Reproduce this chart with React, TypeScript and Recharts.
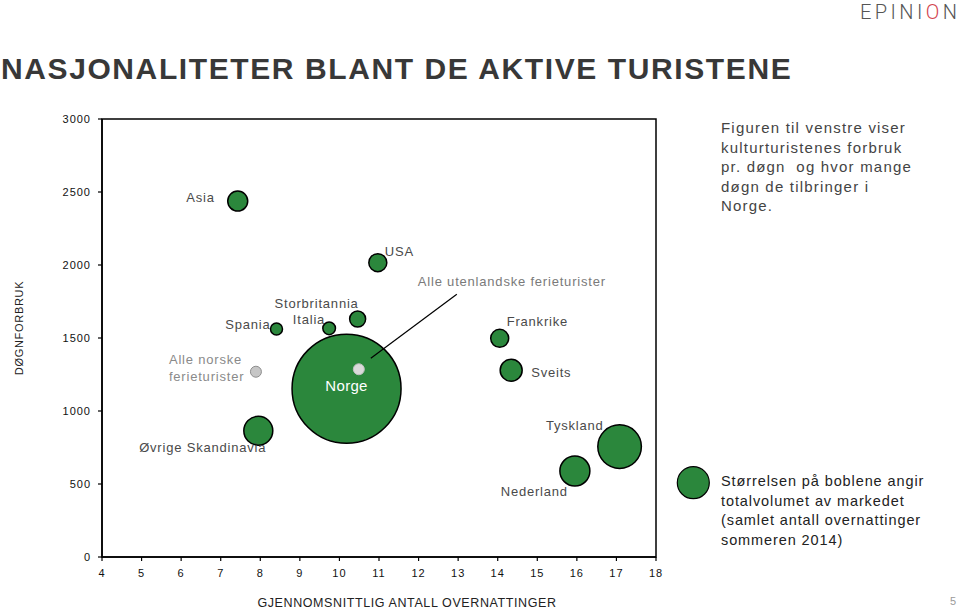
import React from 'react';
import { ScatterChart, Scatter, XAxis, YAxis, ZAxis, ReferenceArea } from 'recharts';

// Markets (bubbles)
const markets = ['Asia', 'USA', 'Storbritannia', 'Italia', 'Spania', 'Norge', 'Frankrike', 'Sveits', 'Øvrige Skandinavia', 'Tyskland', 'Nederland'];
const nights = [7.43, 10.97, 10.46, 9.74, 8.41, 10.18, 14.05, 14.34, 7.95, 17.08, 15.95];
const spend = [2438, 2016, 1630, 1566, 1562, 1153, 1498, 1279, 865, 756, 589];
const volume = [100, 81, 64, 40, 36, 2970, 81, 121, 210, 475, 225];

// Reference groups (grey markers)
const refGroups = ['Alle norske ferieturister', 'Alle utenlandske ferieturister'];
const refNights = [7.89, 10.49];
const refSpend = [1269, 1286];

const xTicks = [4, 5, 6, 7, 8, 9, 10, 11, 12, 13, 14, 15, 16, 17, 18];
const yTicks = [0, 500, 1000, 1500, 2000, 2500, 3000];

const marketData = markets.map((name, i) => ({ name, x: nights[i], y: spend[i], z: volume[i] }));
const refData = refGroups.map((name, i) => ({ name, x: refNights[i], y: refSpend[i] }));

const GREEN = '#2b873c';
const FONT = "'Liberation Sans', Arial, sans-serif";
const LABEL_COLOR = '#4a4a4a';

type Place = { dx: number; dy: number; anchor: 'start' | 'middle' | 'end'; color?: string; size?: number };
const labelPlace: Record<string, Place> = {
  Asia: { dx: -23, dy: 1, anchor: 'end' },
  USA: { dx: 7, dy: -7, anchor: 'start' },
  Storbritannia: { dx: 1, dy: -11, anchor: 'end' },
  Italia: { dx: -4, dy: -4, anchor: 'end' },
  Spania: { dx: -6, dy: 0, anchor: 'end' },
  Norge: { dx: 0, dy: 2, anchor: 'middle', color: '#ffffff', size: 15 },
  Frankrike: { dx: 7, dy: -12, anchor: 'start' },
  Sveits: { dx: 20, dy: 7, anchor: 'start' },
  'Øvrige Skandinavia': { dx: 8, dy: 21, anchor: 'end' },
  Tyskland: { dx: -16, dy: -17, anchor: 'end' },
  Nederland: { dx: -7, dy: 25, anchor: 'end' },
};

const MarketShape = (props: any) => {
  const { cx, cy, payload } = props;
  let r = 0;
  if (typeof props.size === 'number') r = Math.sqrt(Math.max(props.size, 0) / Math.PI);
  else if (typeof props.width === 'number') r = props.width / 2;
  const p = labelPlace[payload.name];
  return (
    <g>
      <circle cx={cx} cy={cy} r={r} fill={GREEN} stroke="#000" strokeWidth={1.5} />
      {p && (
        <text
          x={cx + p.dx}
          y={cy + p.dy}
          textAnchor={p.anchor}
          fontFamily={FONT}
          fontSize={p.size ?? 13}
          letterSpacing={p.size ? 0.3 : 0.8}
          fill={p.color ?? LABEL_COLOR}
        >
          {payload.name}
        </text>
      )}
    </g>
  );
};

const RefShape = (props: any) => {
  const { cx, cy, payload } = props;
  const isNorsk = payload.name === 'Alle norske ferieturister';
  return (
    <g>
      <circle cx={cx} cy={cy} r={5.5} fill={isNorsk ? '#c6c6c6' : '#dadada'} stroke={isNorsk ? '#8e8e8e' : '#c0c0c0'} strokeWidth={1} />
      {isNorsk ? (
        <text x={cx - 87} y={cy} fontFamily={FONT} fontSize={13} letterSpacing={0.8} fill="#8a8a8a">
          <tspan x={cx - 87} dy={-8}>Alle norske</tspan>
          <tspan x={cx - 87} dy={17.5}>ferieturister</tspan>
        </text>
      ) : (
        <g>
          <line x1={cx + 12} y1={cy - 11} x2={cx + 98} y2={cy - 75} stroke="#000" strokeWidth={1.2} />
          <text x={cx + 59} y={cy - 83} fontFamily={FONT} fontSize={13} letterSpacing={0.8} fill="#7a7a7a">
            {payload.name}
          </text>
        </g>
      )}
    </g>
  );
};

const tickStyle = { fontSize: 11, fill: '#111', fontFamily: FONT, letterSpacing: 1 };

export default function App() {
  return (
    <div style={{ position: 'absolute', left: 0, top: 0, width: 960, height: 609, background: '#fff', overflow: 'hidden' }}>
      <ScatterChart width={960} height={609} margin={{ top: 119, right: 304, bottom: 22, left: 42 }}>
        <XAxis
          type="number"
          dataKey="x"
          domain={[4, 18]}
          ticks={xTicks}
          interval={0}
          tickSize={4}
          tickMargin={8}
          height={30}
          stroke="#000"
          axisLine={{ stroke: '#000', strokeWidth: 1.5 }}
          tickLine={{ stroke: '#000', strokeWidth: 1.2 }}
          tick={tickStyle}
          allowDataOverflow
        />
        <YAxis
          type="number"
          dataKey="y"
          domain={[0, 3000]}
          ticks={yTicks}
          interval={0}
          tickSize={4}
          tickMargin={7}
          width={60}
          stroke="#000"
          axisLine={{ stroke: '#000', strokeWidth: 1.5 }}
          tickLine={{ stroke: '#000', strokeWidth: 1.2 }}
          tick={tickStyle}
          allowDataOverflow
        />
        <ZAxis zAxisId="vol" type="number" dataKey="z" domain={[0, 2970]} range={[0, Math.PI * 54.5 * 54.5]} />
        <ZAxis zAxisId="ref" type="number" range={[95, 95]} />
        <ReferenceArea x1={4} x2={18} y1={0} y2={3000} fill="none" fillOpacity={0} stroke="#000" strokeWidth={1.5} />
        <Scatter data={marketData} zAxisId="vol" shape={MarketShape} isAnimationActive={false} />
        <Scatter data={refData} zAxisId="ref" shape={RefShape} isAnimationActive={false} />
      </ScatterChart>

      <svg width={960} height={609} style={{ position: 'absolute', left: 0, top: 0, pointerEvents: 'none' }}>
        <text x={1} y={78.5} fontFamily={FONT} fontSize={30} fontWeight="bold" letterSpacing={1.6} fill="#383838">
          NASJONALITETER BLANT DE AKTIVE TURISTENE
        </text>
        <text x={860} y={19} fontFamily="Roboto, 'Liberation Sans', sans-serif" fontWeight={300} fontSize={20} fill="#555" textLength={97} lengthAdjust="spacing">
          EPINI<tspan fill="#d2454f">O</tspan>N
        </text>
        <g fontFamily={FONT} fontSize={15} fill="#444" letterSpacing={1.2}>
          <text x={721} y={133}>Figuren til venstre viser</text>
          <text x={721} y={152.5}>kulturturistenes forbruk</text>
          <text x={721} y={172}>{'pr. døgn\u00a0 og hvor mange'}</text>
          <text x={721} y={191.7}>døgn de tilbringer i</text>
          <text x={721} y={211.3}>Norge.</text>
        </g>
        <circle cx={693.3} cy={482.7} r={16} fill={GREEN} stroke="#000" strokeWidth={1.2} />
        <g fontFamily={FONT} fontSize={14.5} fill="#222" letterSpacing={0.9}>
          <text x={721} y={485.7}>Størrelsen på boblene angir</text>
          <text x={721} y={505.5}>totalvolumet av markedet</text>
          <text x={721} y={525.3}>(samlet antall overnattinger</text>
          <text x={721} y={545}>sommeren 2014)</text>
        </g>
        <text x={23} y={328} transform="rotate(-90 23 328)" textAnchor="middle" fontFamily={FONT} fontSize={11} letterSpacing={0.7} fill="#222">
          DØGNFORBRUK
        </text>
        <text x={407} y={607} textAnchor="middle" fontFamily={FONT} fontSize={12.5} letterSpacing={0.6} fill="#222">
          GJENNOMSNITTLIG ANTALL OVERNATTINGER
        </text>
        <text x={950} y={605} fontFamily={FONT} fontSize={11} fill="#9a9a9a">5</text>
      </svg>
    </div>
  );
}
